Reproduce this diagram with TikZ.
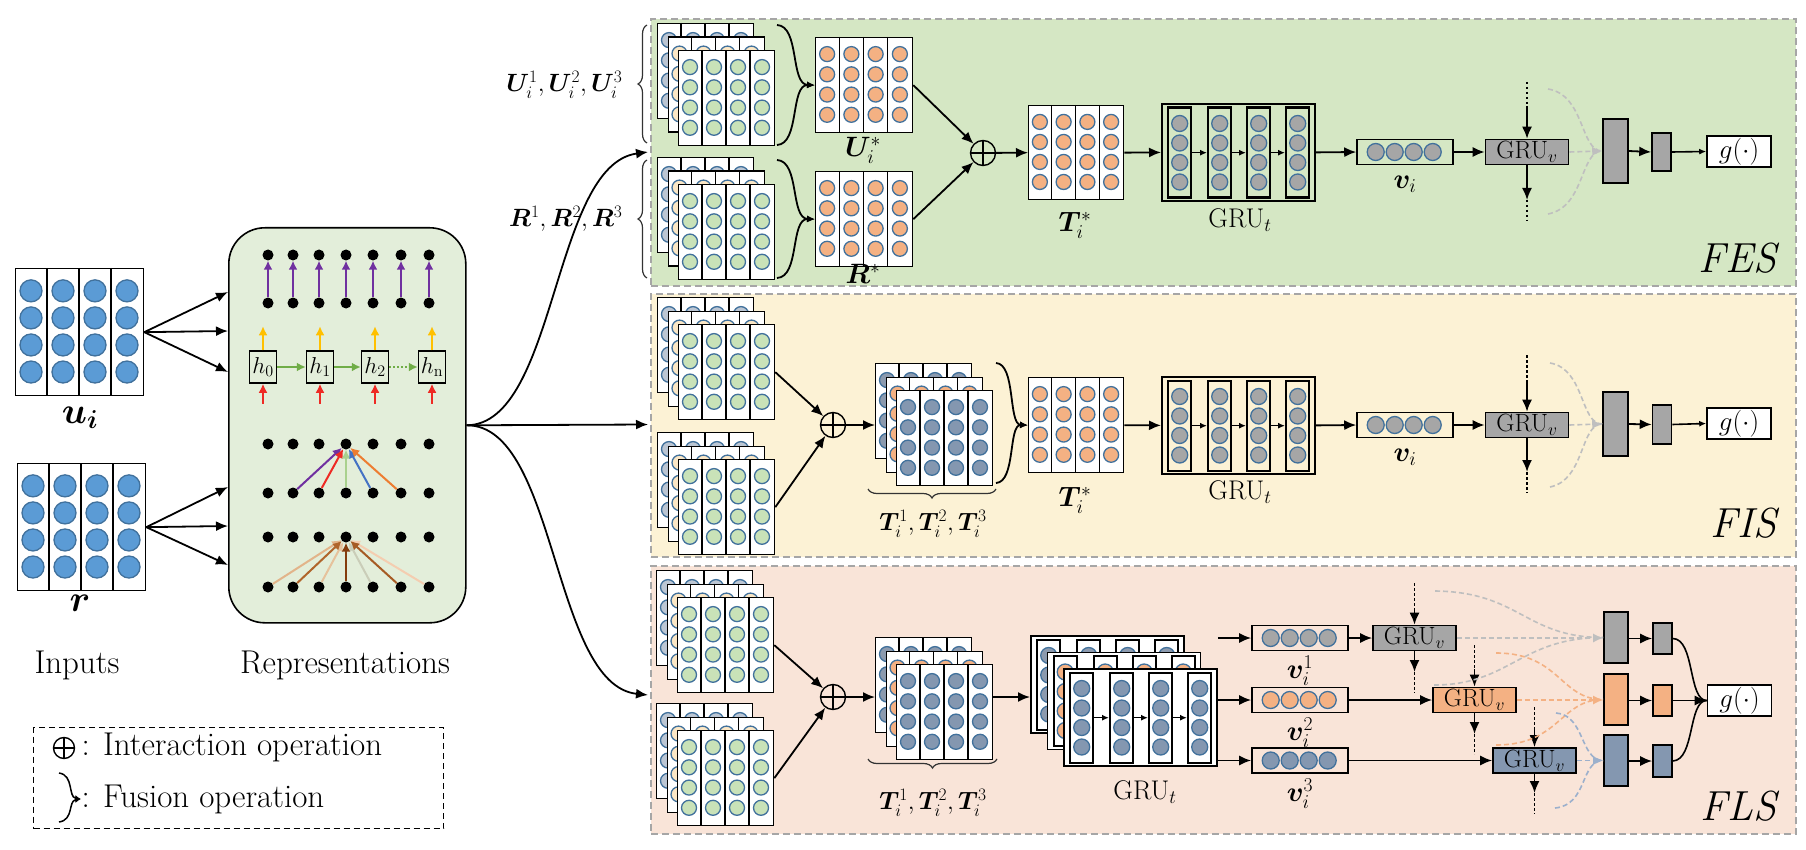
\documentclass[tikz,border=0pt]{standalone}
\usepackage{fix-cm}
\usepackage{amsmath}
\usepackage{bm}
\usetikzlibrary{arrows.meta,decorations.pathreplacing,calc}
\definecolor{fesbg}{HTML}{D5E7C4}
\definecolor{fisbg}{HTML}{FCF2D5}
\definecolor{flsbg}{HTML}{F9E4D8}
\definecolor{repbg}{HTML}{E3EEDA}
\definecolor{cedge}{HTML}{41719C}
\definecolor{cinput}{HTML}{5B9BD5}
\definecolor{cgreen}{HTML}{C9E2B8}
\definecolor{corange}{HTML}{F4B183}
\definecolor{cblue}{HTML}{8497B0}
\definecolor{cgray}{HTML}{A6A6A6}
\definecolor{cback}{HTML}{BCC6D3}
\definecolor{ccream}{HTML}{FBE7C6}
\definecolor{cdark}{HTML}{8C9AAE}
\definecolor{dashgray}{HTML}{BFBFBF}
\definecolor{dashorange}{HTML}{F4B183}
\definecolor{dashblue}{HTML}{9CB0CC}
\definecolor{secborder}{HTML}{A6A6A6}
\definecolor{rpurple}{HTML}{7030A0}
\definecolor{rgreen}{HTML}{70AD47}
\definecolor{ryellow}{HTML}{FFC000}
\definecolor{rred}{HTML}{EE2A24}
\definecolor{alg}{HTML}{A9D18E}
\definecolor{ablue}{HTML}{4472C4}
\definecolor{aorange}{HTML}{ED7D31}
\definecolor{bA}{HTML}{E2B48A}
\definecolor{bB}{HTML}{B0652B}
\definecolor{bC}{HTML}{E6C29C}
\definecolor{bD}{HTML}{843C0C}
\definecolor{bE}{HTML}{CACDB8}
\definecolor{bF}{HTML}{A65B24}
\definecolor{bG}{HTML}{F4CDB0}
\tikzset{
  sheet/.style={draw=black, line width=1.3pt, fill=white, inner sep=0pt, anchor=north west},
  circ/.style={draw=cedge, line width=1.3pt},
  arr/.style={line width=1.8pt, -{Latex[length=12pt,width=10pt]}},
  sarr/.style={line width=1.4pt, -{Latex[length=7pt,width=6pt]}},
  fus/.style={line width=1.8pt, -{Latex[length=8pt,width=7pt]}},
  dotl/.style={line width=1.8pt, dash pattern=on 2.5pt off 2.5pt},
  section/.style={draw=secborder, line width=1.6pt, dash pattern=on 7pt off 4pt, inner sep=0pt, anchor=north west},
  oplus/.style={circle, draw, line width=1.4pt, minimum size=25pt, inner sep=0pt},
  grubox/.style={draw, line width=1.8pt, minimum width=153pt, minimum height=97pt, inner sep=0pt, anchor=north west},
  grucol/.style={draw, line width=2.4pt, minimum width=23pt, minimum height=90pt, inner sep=0pt, anchor=north west},
  gruv/.style={draw, line width=1.6pt, minimum width=83pt, minimum height=25pt, inner sep=0pt, font=\fontsize{25}{25}\selectfont},
  vbox/.style={draw, line width=1.6pt, minimum width=96pt, minimum height=25pt, inner sep=0pt},
  bar/.style={draw, line width=1.6pt, inner sep=0pt},
  gbox/.style={draw, line width=1.6pt, fill=white, minimum width=64pt, minimum height=31pt, inner sep=0pt, font=\fontsize{27}{28}\selectfont},
  mlabel/.style={font=\fontsize{28}{30}\selectfont},
  slabel/.style={font=\fontsize{25}{28}\selectfont},
  tlabel/.style={font=\fontsize{27}{28}\selectfont},
  biglabel/.style={font=\fontsize{33}{36}\selectfont},
  seclabel/.style={font=\fontsize{42}{44}\selectfont\itshape, anchor=east},
  dot/.style={circle, fill=black, minimum size=11pt, inner sep=0pt},
  hbox/.style={draw, line width=1.5pt, fill=repbg, minimum width=27pt, minimum height=32pt, inner sep=0pt, font=\fontsize{23}{23}\selectfont},
  lbrace/.style={decorate, decoration={brace, amplitude=9pt}, line width=1.2pt, draw=black!80},
  dashg/.style={line width=1.6pt, dash pattern=on 5pt off 3pt},
  dtip/.style={-{Latex[length=10pt,width=9pt]}},
  rarr/.style={line width=2pt, -{Latex[length=9pt,width=9pt]}},
}
\newcommand\mysheet[7]{%
  \node[sheet, minimum width=#4pt, minimum height=#5pt] (#1) at (#2,#3) {};
  \foreach \k in {1,2,3}{%
    \draw[line width=1.2pt] ($(#1.north west)+({\k*#4/4},0)$) -- ($(#1.south west)+({\k*#4/4},0)$);
  }%
  \foreach \cc in {0,1,2,3}{%
    \foreach \rr in {0,1,2,3}{%
      \draw[circ, fill=#6] ($(#1.north west)+({(\cc+0.5)*#4/4},{0.18*#5+\rr*0.213*#5})$) circle[radius=#7pt];
    }%
  }%
}
\newcommand\mystack[6]{%
  \pgfmathsetmacro\sxa{#2+10.5}\pgfmathsetmacro\sya{#3+13.5}%
  \pgfmathsetmacro\sxb{#2+21}\pgfmathsetmacro\syb{#3+27}%
  \mysheet{#1b}{#2}{#3}{96}{95}{#4}{7.5}%
  \mysheet{#1m}{\sxa}{\sya}{96}{95}{#5}{7.5}%
  \mysheet{#1}{\sxb}{\syb}{96}{95}{#6}{7.5}%
}
\newcommand\mygru[5]{%
  \node[grubox, fill=#5] (#1) at (#2,#3) {};
  \foreach \k/\xo in {1/6,2/46,3/85,4/124}{%
    \node[grucol, fill=#5] (#1c\k) at ($(#1.north west)+(\xo,3.5)$) {};
    \foreach \rr in {0,1,2,3}{%
      \draw[circ, fill=#4] ($(#1c\k.north)+(0,{17+\rr*19.5})$) circle[radius=8pt];
    }%
  }%
  \foreach \k/\kk in {1/2,2/3,3/4}{\draw[sarr] (#1c\k.east) -- (#1c\kk.west);}%
}
\newcommand\myvbox[4]{%
  \node[vbox] (#1) at (#2,#3) {};
  \foreach \xo in {19.5,38.5,57.5,76.5}{\draw[circ, fill=#4] ($(#1.west)+(\xo,0)$) circle[radius=8.5pt];}%
}
\begin{document}
\begin{tikzpicture}[x=1pt,y=-1pt]
\useasboundingbox (0,0) rectangle (1806,850);
% ---------- sections ----------
\node[section, fill=fesbg, minimum width=1145pt, minimum height=267pt] (fes) at (650,18) {};
\node[section, fill=fisbg, minimum width=1145pt, minimum height=263pt] (fis) at (650,293) {};
\node[section, fill=flsbg, minimum width=1145pt, minimum height=268pt] (fls) at (650,565) {};
\node[seclabel] (fesl) at (1780,258) {FES};
\node[seclabel] (fisl) at (1780,523) {FIS};
\node[seclabel] (flsl) at (1780,806) {FLS};

% ---------- inputs ----------
\mysheet{ui}{15}{268}{128}{127}{cinput}{11}
\mysheet{rin}{17}{463}{128}{127}{cinput}{11}
\node[font=\fontsize{37}{40}\selectfont] (uil) at (80,418) {$\bm{u}_{\bm{i}}$};
\node[font=\fontsize{37}{40}\selectfont] (rl) at (80,603) {$\bm{r}$};
\node[biglabel] (inl) at (77,665) {Inputs};
\node[biglabel] (repl) at (345,665) {Representations};

% ---------- representation box ----------
\node[draw, line width=1.6pt, rounded corners=36pt, fill=repbg, minimum width=237pt, minimum height=395pt, inner sep=0pt, anchor=north west] (rep) at (228,227) {};
\coordinate (ia1) at (228,292); \coordinate (ia2) at (228,331); \coordinate (ia3) at (228,372);
\coordinate (ib1) at (228,487); \coordinate (ib2) at (228,526); \coordinate (ib3) at (228,565);
\draw[arr] (ui.east) -- (ia1); \draw[arr] (ui.east) -- (ia2); \draw[arr] (ui.east) -- (ia3);
\draw[arr] (rin.east) -- (ib1); \draw[arr] (rin.east) -- (ib2); \draw[arr] (rin.east) -- (ib3);

\foreach \c/\x in {1/268,2/293,3/319,4/346,5/373,6/401,7/429}{%
  \foreach \r/\y in {1/255,2/303,3/444,4/493,5/537,6/587}{%
    \node[dot] (d\r-\c) at (\x,\y) {};
  }
  \draw[rarr, rpurple] (d2-\c) -- (d1-\c);
}
\node[hbox] (h0) at (263,367) {$h_0$};
\node[hbox] (h1) at (320,367) {$h_1$};
\node[hbox] (h2) at (375,367) {$h_2$};
\node[hbox] (hn) at (432,367) {$h_{\mathrm{n}}$};
\draw[rarr, rgreen] (h0) -- (h1);
\draw[rarr, rgreen] (h1) -- (h2);
\draw[rarr, rgreen, dash pattern=on 2pt off 2pt] (h2) -- (hn);
\foreach \h in {h0,h1,h2,hn}{%
  \draw[rarr, ryellow] (\h.north) -- ++(0,-24);
  \draw[rarr, rred] ([yshift=-20pt]\h.south) -- (\h.south);
}
\draw[rarr, rpurple] (d4-2) -- (d3-4);
\draw[rarr, rred] (d4-3) -- (d3-4);
\draw[rarr, alg] (d4-4) -- (d3-4);
\draw[rarr, ablue] (d4-5) -- (d3-4);
\draw[rarr, aorange] (d4-6) -- (d3-4);
\draw[rarr, bA] (d6-1) -- (d5-4);
\draw[rarr, bG] (d6-7) -- (d5-4);
\draw[rarr, bC] (d6-3) -- (d5-4);
\draw[rarr, bE] (d6-5) -- (d5-4);
\draw[rarr, bB] (d6-2) -- (d5-4);
\draw[rarr, bF] (d6-6) -- (d5-4);
\draw[rarr, bD] (d6-4) -- (d5-4);

% ---------- outputs to branches ----------
\coordinate (fe) at (648,152); \coordinate (fi) at (648,424.5); \coordinate (fl) at (648,695);
\draw[arr] (rep.east) .. controls (557,424.5) and (552,165) .. (fe);
\draw[arr] (rep.east) -- (fi);
\draw[arr] (rep.east) .. controls (557,424.5) and (552,685) .. (fl);

% ---------- legend ----------
\node[draw, line width=1.3pt, dash pattern=on 6pt off 4pt, minimum width=410pt, minimum height=101pt, inner sep=0pt, anchor=north west] (leg) at (33,727) {};
\node[oplus, minimum size=21pt] (lop) at (64,748) {};
\draw[line width=1.3pt] (lop.north) -- (lop.south) (lop.west) -- (lop.east);
\node[biglabel, anchor=west] (lt1) at (78,747) {: Interaction operation};
\coordinate (lb1) at (59,773); \coordinate (lb2) at (59,822); \coordinate (lbt) at (81,799);
\draw[line width=1.5pt, -{Latex[length=6pt,width=6pt]}] (lb1) .. controls (74,775) and (68,797) .. (lbt);
\draw[line width=1.5pt, -{Latex[length=6pt,width=6pt]}] (lb2) .. controls (74,820) and (68,801) .. (lbt);
\node[biglabel, anchor=west] (lt2) at (78,799) {: Fusion operation};

% ================= FES =================
\mystack{fu}{657}{23}{cback}{ccream}{cgreen}
\mystack{fr}{657}{157}{cback}{ccream}{cgreen}
\draw[lbrace] (647,143) -- (647,25) node[midway] (bu) {};
\draw[lbrace] (647,278) -- (647,160) node[midway] (br) {};
\node[slabel, anchor=east] (ulab) at (626,85) {$\bm{U}_i^1, \bm{U}_i^2, \bm{U}_i^3$};
\node[slabel, anchor=east] (rlab) at (626,219) {$\bm{R}^1, \bm{R}^2, \bm{R}^3$};
\mysheet{us}{815}{37}{97}{95}{corange}{7.5}
\mysheet{rs}{815}{171}{97}{95}{corange}{7.5}
\node[mlabel] (usl) at (863,150) {$\bm{U}_i^*$};
\node[mlabel] (rsl) at (863,274) {$\bm{R}^*$};
\coordinate (fa1) at (777,25); \coordinate (fa2) at (777,145);
\coordinate (fa3) at (777,160); \coordinate (fa4) at (777,278);
\draw[fus] (fa1) .. controls (800,26) and (790,84.5) .. (us.west);
\draw[fus] (fa2) .. controls (800,144) and (790,84.5) .. (us.west);
\draw[fus] (fa3) .. controls (800,161) and (790,218.5) .. (rs.west);
\draw[fus] (fa4) .. controls (800,277) and (790,218.5) .. (rs.west);
\node[oplus] (op1) at (983,153) {};
\draw[line width=1.4pt] (op1.north) -- (op1.south) (op1.west) -- (op1.east);
\draw[arr] (us.east) -- (op1);
\draw[arr] (rs.east) -- (op1);
\mysheet{ts1}{1028}{105}{95}{94}{corange}{7.5}
\node[mlabel] (ts1l) at (1075,225) {$\bm{T}_i^*$};
\draw[arr] (op1) -- (ts1.west);
\mygru{gt1}{1161}{103}{cgray}{none}
\node[tlabel] (gt1l) at (1240,220) {GRU$_t$};
\draw[arr] (ts1.east) -- (gt1.west);
\myvbox{v1f}{1405}{152}{cgray}
\node[mlabel] (v1fl) at (1405,184) {$\bm{v}_i$};
\draw[arr] (gt1.east) -- (v1f.west);
\node[gruv, fill=cgray] (gv1f) at (1527,152) {GRU$_v$};
\draw[arr] (v1f.east) -- (gv1f.west);
\coordinate (fq1) at (1527,82); \coordinate (fq2) at (1527,106);
\coordinate (fq3) at (1527,200); \coordinate (fq4) at (1527,221);
\draw[dotl] (fq1) -- (fq2); \draw[arr] (fq2) -- (gv1f.north);
\draw[arr] (gv1f.south) -- (fq3); \draw[dotl] (fq3) -- (fq4);
\node[bar, fill=cgray, minimum width=25pt, minimum height=64pt] (tb1f) at (1615.5,151) {};
\node[bar, fill=cgray, minimum width=19pt, minimum height=38pt] (sb1f) at (1661.5,152) {};
\node[gbox] (g1) at (1739,151.5) {$g(\cdot)$};
\coordinate (fc1) at (1548,89); \coordinate (fc2) at (1548,214);
\draw[dashg, dashgray] (fc1) .. controls (1585,95) and (1580,151) .. (tb1f.west);
\draw[dashg, dashgray] (fc2) .. controls (1585,207) and (1580,151) .. (tb1f.west);
\draw[dashg, dashgray, dtip] (gv1f.east) -- (tb1f.west);
\draw[arr] (tb1f.east) -- (sb1f.west);
\draw[sarr, line width=1.6pt] (sb1f.east) -- (g1.west);

% ================= FIS =================
\mystack{iu}{657}{297}{cback}{ccream}{cgreen}
\mystack{ir}{657}{432}{cback}{ccream}{cgreen}
\node[oplus] (op2) at (833,425) {};
\draw[line width=1.4pt] (op2.north) -- (op2.south) (op2.west) -- (op2.east);
\draw[arr] (iu.east) -- (op2);
\draw[arr] (ir.east) -- (op2);
\mystack{it}{875}{363}{cdark}{corange}{cblue}
\draw[arr] (op2) -- (itb.west |- op2);
\draw[lbrace] (996,489) -- (868,489) node[midway] (bti) {};
\node[slabel] (itl) at (933,524) {$\bm{T}_i^1, \bm{T}_i^2, \bm{T}_i^3$};
\mysheet{ts2}{1028}{377}{95}{95}{corange}{7.5}
\node[mlabel] (ts2l) at (1075,500) {$\bm{T}_i^*$};
\coordinate (ib5) at (996,363); \coordinate (ib6) at (996,483);
\draw[fus] (ib5) .. controls (1016,364) and (1008,424.5) .. (ts2.west);
\draw[fus] (ib6) .. controls (1016,482) and (1008,424.5) .. (ts2.west);
\mygru{gt2}{1161}{376}{cgray}{none}
\node[tlabel] (gt2l) at (1240,492) {GRU$_t$};
\draw[arr] (ts2.east) -- (gt2.west);
\myvbox{v2f}{1405}{425}{cgray}
\node[mlabel] (v2fl) at (1405,457) {$\bm{v}_i$};
\draw[arr] (gt2.east) -- (v2f.west);
\node[gruv, fill=cgray] (gv2f) at (1527,425) {GRU$_v$};
\draw[arr] (v2f.east) -- (gv2f.west);
\coordinate (iq1) at (1527,355); \coordinate (iq2) at (1527,380);
\coordinate (iq3) at (1527,472); \coordinate (iq4) at (1527,493);
\draw[dotl] (iq1) -- (iq2); \draw[arr] (iq2) -- (gv2f.north);
\draw[arr] (gv2f.south) -- (iq3); \draw[dotl] (iq3) -- (iq4);
\node[bar, fill=cgray, minimum width=25pt, minimum height=64pt] (tb2f) at (1615.5,424) {};
\node[bar, fill=cgray, minimum width=19pt, minimum height=39pt] (sb2f) at (1662,424.5) {};
\node[gbox] (g2) at (1739,423.5) {$g(\cdot)$};
\coordinate (ic1) at (1550,363); \coordinate (ic2) at (1550,487);
\draw[dashg, dashgray] (ic1) .. controls (1585,369) and (1580,424) .. (tb2f.west);
\draw[dashg, dashgray] (ic2) .. controls (1585,480) and (1580,424) .. (tb2f.west);
\draw[dashg, dashgray, dtip] (gv2f.east) -- (tb2f.west);
\draw[arr] (tb2f.east) -- (sb2f.west);
\draw[sarr, line width=1.6pt] (sb2f.east) -- (g2.west);

% ================= FLS =================
\mystack{lu}{656}{570}{cback}{ccream}{cgreen}
\mystack{lr}{656}{703}{cback}{ccream}{cgreen}
\node[oplus] (op3) at (833,697) {};
\draw[line width=1.4pt] (op3.north) -- (op3.south) (op3.west) -- (op3.east);
\draw[arr] (lu.east) -- (op3);
\draw[arr] (lr.east) -- (op3);
\mystack{lt}{875}{637}{cdark}{corange}{cblue}
\draw[arr] (op3) -- (ltb.west |- op3);
\draw[lbrace] (997,759) -- (868,759) node[midway] (btl) {};
\node[slabel] (ltl) at (933,803) {$\bm{T}_i^1, \bm{T}_i^2, \bm{T}_i^3$};
\mygru{gt3b}{1030}{635}{cdark}{white}
\mygru{gt3m}{1046.5}{651.5}{corange}{white}
\mygru{gt3}{1063}{668}{cblue}{white}
\node[tlabel] (gt3l) at (1145,792) {GRU$_t$};
\draw[arr] (lt.east |- op3) -- (gt3b.west |- op3);
\myvbox{lv1}{1300}{638}{cgray}
\myvbox{lv2}{1300}{700}{corange}
\myvbox{lv3}{1300}{760.5}{cblue}
\node[mlabel] (lv1l) at (1300,671) {$\bm{v}_i^1$};
\node[mlabel] (lv2l) at (1300,733) {$\bm{v}_i^2$};
\node[mlabel] (lv3l) at (1300,794) {$\bm{v}_i^3$};
\draw[arr] (gt3.east |- lv1.west) -- (lv1.west);
\draw[arr] (gt3.east |- lv2.west) -- (lv2.west);
\draw[arr] (gt3.east |- lv3.west) -- (lv3.west);
\node[gruv, fill=cgray] (lg1) at (1414.5,638) {GRU$_v$};
\node[gruv, fill=corange] (lg2) at (1474.5,700) {GRU$_v$};
\node[gruv, fill=cblue] (lg3) at (1534.5,760.5) {GRU$_v$};
\draw[arr] (lv1.east) -- (lg1.west);
\draw[arr] (lv2.east) -- (lg2.west);
\draw[arr] (lv3.east) -- (lg3.west);
\coordinate (lq1) at (1414.5,583); \coordinate (lq2) at (1414.5,608);
\coordinate (lq3) at (1414.5,672); \coordinate (lq4) at (1414.5,693);
\draw[dotl] (lq1) -- (lq2); \draw[arr] (lq2) -- (lg1.north);
\draw[arr] (lg1.south) -- (lq3); \draw[dotl] (lq3) -- (lq4);
\coordinate (lq5) at (1474.5,645); \coordinate (lq6) at (1474.5,669);
\coordinate (lq7) at (1474.5,734); \coordinate (lq8) at (1474.5,754);
\draw[dotl] (lq5) -- (lq6); \draw[arr] (lq6) -- (lg2.north);
\draw[arr] (lg2.south) -- (lq7); \draw[dotl] (lq7) -- (lq8);
\coordinate (lq9) at (1534.5,707); \coordinate (lq10) at (1534.5,730);
\coordinate (lq11) at (1534.5,793); \coordinate (lq12) at (1534.5,814);
\draw[dotl] (lq9) -- (lq10); \draw[arr] (lq10) -- (lg3.north);
\draw[arr] (lg3.south) -- (lq11); \draw[dotl] (lq11) -- (lq12);
\node[bar, fill=cgray, minimum width=24pt, minimum height=51pt] (ltb1) at (1616,637.5) {};
\node[bar, fill=corange, minimum width=24pt, minimum height=51pt] (ltb2) at (1616,699.5) {};
\node[bar, fill=cblue, minimum width=24pt, minimum height=51pt] (ltb3) at (1616,760.5) {};
\node[bar, fill=cgray, minimum width=19pt, minimum height=31pt] (lsb1) at (1662.5,638.5) {};
\node[bar, fill=corange, minimum width=19pt, minimum height=31pt] (lsb2) at (1662.5,700.5) {};
\node[bar, fill=cblue, minimum width=19pt, minimum height=32pt] (lsb3) at (1662.5,761) {};
\node[gbox] (g3) at (1739.5,700.5) {$g(\cdot)$};
% dashed curves
\coordinate (lc1) at (1435,591); \coordinate (lc2) at (1434,685);
\coordinate (lc3) at (1496,653); \coordinate (lc4) at (1496,745);
\coordinate (lc5) at (1556,713); \coordinate (lc6) at (1555,808);
\draw[dashg, dashgray] (lc1) .. controls (1520,592) and (1525,637.5) .. (ltb1.west);
\draw[dashg, dashgray] (lc2) .. controls (1510,685) and (1520,637.5) .. (ltb1.west);
\draw[dashg, dashgray, dtip] (lg1.east) -- (ltb1.west |- lg1.east);
\draw[dashg, dashorange] (lc3) .. controls (1560,653) and (1560,699.5) .. (ltb2.west);
\draw[dashg, dashorange] (lc4) .. controls (1560,745) and (1560,699.5) .. (ltb2.west);
\draw[dashg, dashorange, dtip] (lg2.east) -- (ltb2.west |- lg2.east);
\draw[dashg, dashblue] (lc5) .. controls (1585,715) and (1580,760.5) .. (ltb3.west);
\draw[dashg, dashblue] (lc6) .. controls (1588,805) and (1580,760.5) .. (ltb3.west);
\draw[dashg, dashblue, dtip] (lg3.east) -- (ltb3.west);
\draw[arr] (ltb1.east |- lsb1) -- (lsb1.west);
\draw[arr] (ltb2.east |- lsb2) -- (lsb2.west);
\draw[arr] (ltb3.east |- lsb3) -- (lsb3.west);
\draw[line width=1.6pt] (lsb1.east) .. controls (1695,639) and (1688,700.5) .. (g3.west);
\draw[line width=1.6pt] (lsb3.east) .. controls (1695,760) and (1688,700.5) .. (g3.west);
\draw[arr] (lsb2.east) -- (g3.west);
\end{tikzpicture}
\end{document}
